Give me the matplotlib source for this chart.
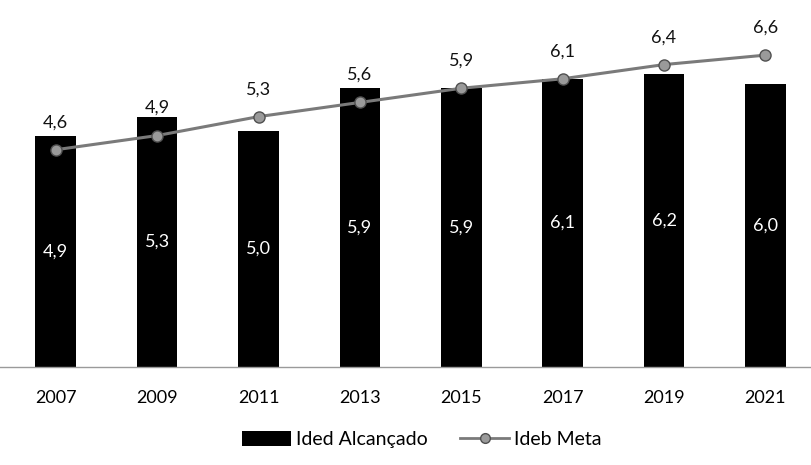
import matplotlib
matplotlib.use("Agg")
import matplotlib.pyplot as plt
import numpy as np
from matplotlib.lines import Line2D
from matplotlib.patches import Patch

anos = ["2007", "2009", "2011", "2013", "2015", "2017", "2019", "2021"]
ideb_alcancado = [4.9, 5.3, 5.0, 5.9, 5.9, 6.1, 6.2, 6.0]
ideb_meta = [4.6, 4.9, 5.3, 5.6, 5.9, 6.1, 6.4, 6.6]

plt.rcParams["font.family"] = ["Lato", "DejaVu Sans"]

fig = plt.figure(figsize=(8.11, 4.65), dpi=100)
ax = fig.add_axes([0.0, 0.21, 1.0, 0.763])

x = np.arange(len(anos))
ax.bar(x, ideb_alcancado, width=0.40, color="black", zorder=2)
ax.plot(x, ideb_meta, color="#7a7a7a", lw=2.2, marker="o", ms=8,
        mfc="#9a9a9a", mec="#505050", mew=1, zorder=3)

# values of the achieved index, centred inside each bar
for xi, v in zip(x, ideb_alcancado):
    ax.text(xi, v / 2, f"{v:.1f}".replace(".", ","), color="white",
            ha="center", va="center", fontsize=13, zorder=4)

# target values above the line markers
for xi, v in zip(x, ideb_meta):
    ax.annotate(f"{v:.1f}".replace(".", ","), (xi, v), xytext=(0, 14),
                textcoords="offset points", ha="center", va="bottom",
                fontsize=13, color="#111111")

ax.set_xlim(-0.55, len(anos) - 0.55)
ax.set_ylim(0, 7.5)
ax.set_xticks(x)
ax.set_xticklabels(anos, fontsize=13)
ax.tick_params(axis="x", length=0, pad=16)
ax.set_yticks([])
for s in ["top", "right", "left"]:
    ax.spines[s].set_visible(False)
ax.spines["bottom"].set_color("#9a9a9a")
ax.spines["bottom"].set_linewidth(1)

handles = [
    Patch(facecolor="black", label="Ided Alcançado"),
    Line2D([], [], color="#7a7a7a", lw=2, marker="o", ms=7,
           mfc="#9a9a9a", mec="#505050", label="Ideb Meta"),
]
fig.legend(handles=handles, loc="center", bbox_to_anchor=(0.52, 0.054),
           ncol=2, frameon=False, fontsize=14, handlelength=2.5,
           handleheight=0.8, columnspacing=1.7, handletextpad=0.25)

fig.savefig("out.png", dpi=100)
